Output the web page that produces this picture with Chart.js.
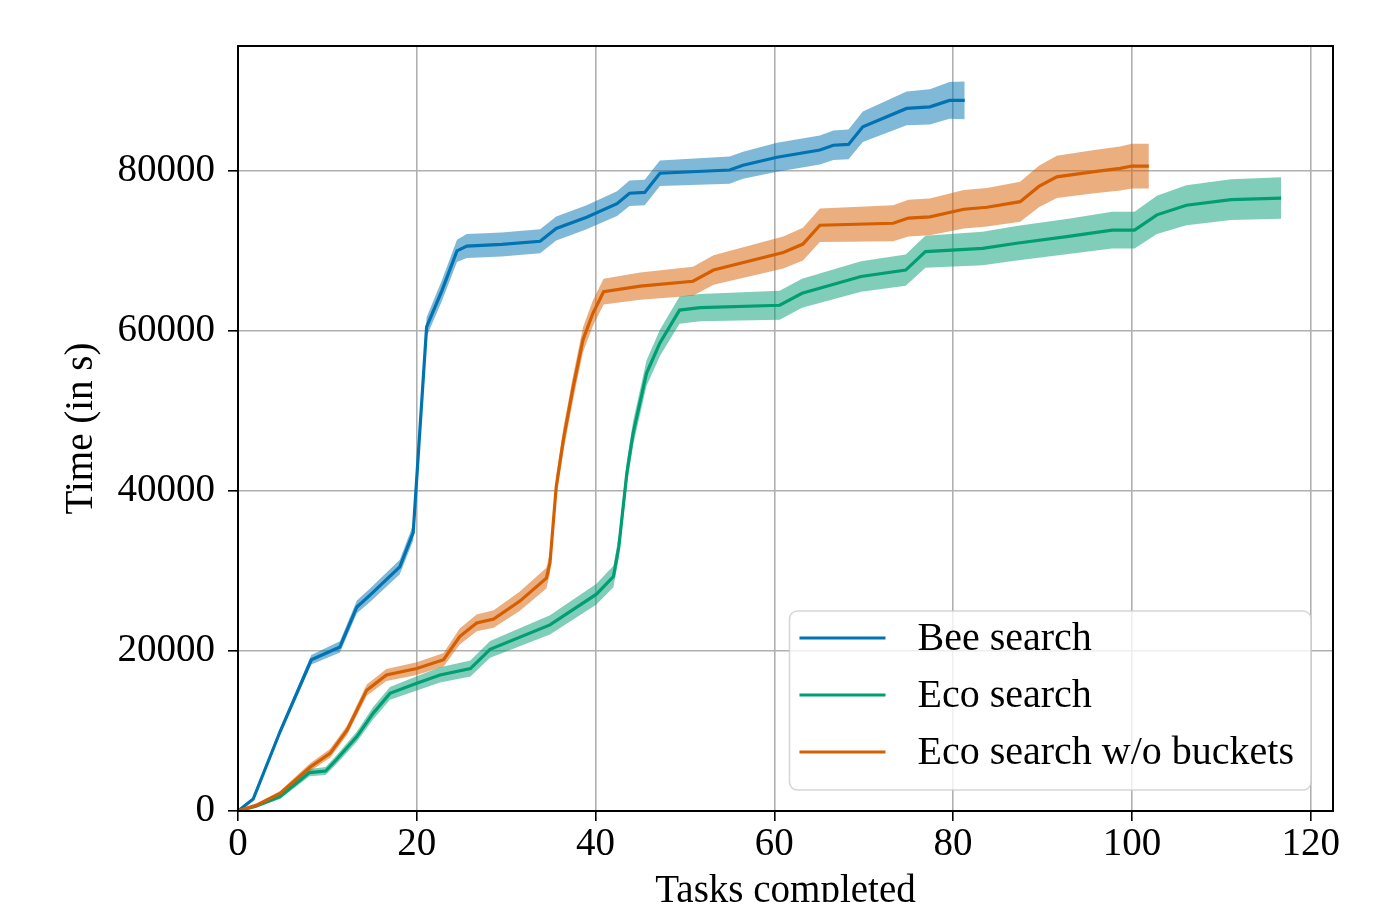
<!DOCTYPE html>
<html>
<head>
<meta charset="utf-8">
<title>Time vs tasks completed</title>
<script src="https://cdn.jsdelivr.net/npm/chart.js@4.4.1/dist/chart.umd.min.js"></script>
<style>
  html, body { margin: 0; padding: 0; background: #fff; overflow: hidden; }
  #wrap { width: 1381px; height: 902px; }
</style>
</head>
<body>
<div id="wrap"><canvas id="chart" width="1381" height="902"></canvas></div>
<script>
"use strict";

// series: x = tasks completed, mean time and half width of the band
const seriesNames = ["Bee search", "Eco search", "Eco search w/o buckets"];

const beeX = [0, 1.7, 4.7, 8.2, 11.4, 13.3, 14.8, 18.1, 19.6, 21.1, 22.8, 24.5, 25.6, 29.5, 33.8,
  35.6, 39, 42.4, 43.8, 45.5, 47.2, 55, 56.5, 60.3, 65.1, 66.6, 68.3, 69.9, 74.8, 77.4, 79.6, 81.3];
const beeMean = [0, 1500, 9900, 18900, 20500, 25500, 27000, 30500, 34800, 60500, 65000, 70000, 70600, 70800, 71200,
  72800, 74200, 75900, 77200, 77300, 79700, 80100, 80700, 81700, 82600, 83200, 83300, 85500, 87800, 88000, 88800, 88800];
const beeSpread = [0, 150, 400, 600, 700, 800, 850, 900, 1000, 1200, 1300, 1400, 1500, 1500, 1500,
  1500, 1500, 1550, 1600, 1600, 1600, 1700, 1700, 1800, 1800, 1850, 1850, 1900, 2100, 2200, 2300, 2350];

const ecoX = [0, 2, 4.7, 8, 9.8, 11, 13.3, 15.1, 17, 20, 22.6, 26, 28.2, 34.9, 40.1, 42, 42.6, 43.5, 44.2,
  45.7, 47.2, 49.4, 51.7, 60.6, 63.1, 69.7, 74.7, 76.9, 83.3, 87.1, 92.9, 97.8, 100.3, 102.8, 106.1, 111.1, 116.7];
const ecoMean = [0, 600, 1800, 4800, 5000, 6400, 9300, 12200, 14700, 15950, 17000, 17800, 20200, 23250, 27100, 29300, 33000, 42200, 47200,
  54700, 58500, 62600, 62900, 63200, 64700, 66800, 67600, 69900, 70300, 70950, 71800, 72600, 72600, 74500, 75700, 76400, 76600];
const ecoSpread = [0, 150, 300, 450, 500, 550, 650, 750, 800, 900, 950, 1000, 1050, 1200, 1300, 1350, 1400, 1500, 1500,
  1600, 1650, 1700, 1700, 1800, 1800, 1900, 1950, 2000, 2100, 2150, 2200, 2300, 2300, 2400, 2500, 2550, 2600];

const nobX = [0, 2, 4.7, 8.1, 10.3, 12.2, 14.4, 16.6, 20, 23, 24.8, 26.7, 28.6, 31.5, 34.5, 34.9, 35.6, 36.4, 37.5, 38.6,
  39.7, 40.9, 45, 50.9, 53.2, 61, 63.2, 65.1, 73.3, 75, 77.4, 81.2, 83.8, 87.5, 89.6, 91.6, 95.8, 98.7, 100, 101.9];
const nobMean = [0, 700, 2200, 5500, 7200, 10100, 15100, 17000, 17800, 18900, 21800, 23500, 24000, 26200, 29100, 31000, 40500, 46400, 53000, 58900,
  62200, 64900, 65600, 66200, 67600, 69800, 70850, 73200, 73450, 74100, 74250, 75200, 75450, 76150, 78050, 79250, 79900, 80300, 80600, 80600];
const nobSpread = [0, 150, 300, 500, 550, 600, 700, 750, 800, 850, 1000, 1050, 1100, 1200, 1300, 1300, 1400, 1450, 1500, 1550,
  1600, 1600, 1700, 1800, 1850, 2000, 2050, 2100, 2250, 2300, 2300, 2400, 2400, 2500, 2600, 2650, 2700, 2750, 2800, 2800];

const xTicks = [0, 20, 40, 60, 80, 100, 120];
const yTicks = [0, 20000, 40000, 60000, 80000];
const xMax = 122.5;
const yMax = 95600;

const colors = ["#0173b2", "#029e73", "#d55e00"];
const bands = ["rgba(1, 115, 178, 0.5)", "rgba(2, 158, 115, 0.5)", "rgba(213, 94, 0, 0.5)"];
const FONT = "'Liberation Serif', 'DejaVu Serif', serif";

const series = [
  [beeX, beeMean, beeSpread],
  [ecoX, ecoMean, ecoSpread],
  [nobX, nobMean, nobSpread],
];

function points(xs, ys, spread, sign) {
  return xs.map((x, i) => ({ x: x, y: ys[i] + sign * spread[i] }));
}

const datasets = [];
// bands first (lower edge, then upper edge filled to it)
series.forEach(([xs, ys, sp], k) => {
  datasets.push({
    label: "low" + k,
    data: points(xs, ys, sp, -1),
    borderWidth: 0,
    pointRadius: 0,
    fill: false,
    order: 10,
  });
  datasets.push({
    label: "high" + k,
    data: points(xs, ys, sp, 1),
    borderWidth: 0,
    pointRadius: 0,
    backgroundColor: bands[k],
    fill: "-1",
    order: 10,
  });
});
series.forEach(([xs, ys], k) => {
  datasets.push({
    label: seriesNames[k],
    data: points(xs, ys, ys.map(() => 0), 0),
    borderColor: colors[k],
    borderWidth: 3.2,
    pointRadius: 0,
    fill: false,
    order: 3 - k,
    isLine: true,
  });
});

const framePlugin = {
  id: "frame",
  afterDatasetsDraw(chart) {
    const { ctx, chartArea: a } = chart;
    ctx.save();
    ctx.strokeStyle = "#000";
    ctx.lineWidth = 2;
    ctx.strokeRect(a.left, a.top, a.right - a.left, a.bottom - a.top);
    ctx.restore();
  },
};

const legendPlugin = {
  id: "boxLegend",
  afterDraw(chart) {
    const { ctx, chartArea: a } = chart;
    const lines = chart.data.datasets.filter((d) => d.isLine);
    ctx.save();
    ctx.font = "40px " + FONT;
    const textW = Math.max(...lines.map((d) => ctx.measureText(d.label).width));
    const w = 10 + 86 + 32 + textW + 17;
    const h = 179;
    const x0 = a.right - 22 - w;
    const y0 = a.bottom - 21 - h;
    ctx.beginPath();
    ctx.roundRect(x0, y0, w, h, 8);
    ctx.fillStyle = "rgba(255, 255, 255, 0.8)";
    ctx.fill();
    ctx.strokeStyle = "rgba(204, 204, 204, 0.8)";
    ctx.lineWidth = 1.5;
    ctx.stroke();
    lines.forEach((d, i) => {
      const y = y0 + 27 + i * 57;
      ctx.beginPath();
      ctx.moveTo(x0 + 10, y);
      ctx.lineTo(x0 + 96, y);
      ctx.strokeStyle = d.borderColor;
      ctx.lineWidth = 3.2;
      ctx.stroke();
      ctx.fillStyle = "#000";
      ctx.textBaseline = "middle";
      ctx.textAlign = "left";
      ctx.fillText(d.label, x0 + 128, y + 1);
    });
    ctx.restore();
  },
};

const ctx = document.getElementById("chart").getContext("2d");

const myChart = new Chart(ctx, {
  type: "line",
  data: { datasets: datasets },
  options: {
    responsive: false,
    animation: false,
    layout: { padding: { top: 46, right: 48, left: 0, bottom: 0 } },
    elements: { line: { tension: 0 } },
    plugins: {
      legend: { display: false },
      tooltip: { enabled: false },
      filler: { drawTime: "beforeDatasetsDraw" },
    },
    scales: {
      x: {
        type: "linear",
        min: 0,
        max: xMax,
        afterBuildTicks: (scale) => { scale.ticks = xTicks.map((v) => ({ value: v })); },
        afterFit: (scale) => { scale.height = 91; },
        border: { display: false },
        grid: { color: "#b0b0b0", lineWidth: 1.6, tickColor: "#000", tickLength: 10, tickWidth: 1.6 },
        ticks: {
          padding: 0,
          color: "#000",
          maxRotation: 0,
          font: { family: FONT, size: 39 },
          callback: (v) => String(v),
        },
        title: {
          display: true,
          text: "Tasks completed",
          color: "#000",
          font: { family: FONT, size: 39, lineHeight: 1 },
          padding: { top: 0, bottom: -9 },
        },
      },
      y: {
        type: "linear",
        min: 0,
        max: yMax,
        afterBuildTicks: (scale) => { scale.ticks = yTicks.map((v) => ({ value: v })); },
        afterFit: (scale) => { scale.width = 238; },
        border: { display: false },
        grid: { color: "#b0b0b0", lineWidth: 1.6, tickColor: "#000", tickLength: 10, tickWidth: 1.6 },
        ticks: {
          padding: 13,
          color: "#000",
          font: { family: FONT, size: 39 },
          callback: (v) => String(v),
        },
        title: {
          display: true,
          text: "Time (in s)",
          color: "#000",
          font: { family: FONT, size: 39, lineHeight: 1 },
          padding: { top: 62, bottom: 0 },
        },
      },
    },
  },
  plugins: [framePlugin, legendPlugin],
});
</script>
</body>
</html>
